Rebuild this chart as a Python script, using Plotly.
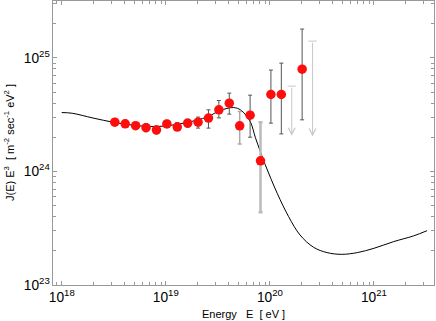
import numpy as np
import plotly.graph_objects as go

# measured flux points: log10(E / eV) and log10(J E^3)
log_e = [18.51, 18.61, 18.71, 18.81, 18.91, 19.01, 19.11, 19.21, 19.31,
         19.41, 19.51, 19.61, 19.71, 19.81, 19.91, 20.01, 20.11, 20.31]
log_flux = [24.433, 24.419, 24.402, 24.385, 24.365, 24.418, 24.390, 24.424, 24.433,
            24.469, 24.542, 24.601, 24.401, 24.495, 24.093, 24.677, 24.677, 24.900]
log_hi = [24.46, 24.45, 24.43, 24.42, 24.40, 24.45, 24.43, 24.46, 24.478,
          24.542, 24.624, 24.689, 24.527, 24.671, 24.433, 24.892, 24.953, 25.253]
log_lo = [24.41, 24.39, 24.37, 24.35, 24.33, 24.39, 24.36, 24.39, 24.381,
          24.381, 24.471, 24.504, 24.242, 24.301, 23.641, 24.425, 24.330, 24.454]
# which error bars are drawn in the pale style
pale = [13, 15]

# upper limits
lim_log_e = [20.21, 20.41]
lim_top = [24.751, 25.147]
lim_tip = [24.313, 24.307]

# model curve
curve_log_e = [18.0, 18.1, 18.3, 18.5, 18.7, 18.85, 19.0, 19.2, 19.4, 19.52, 19.65,
               19.72, 19.81, 19.86, 19.91, 19.955, 20.07, 20.18, 20.29, 20.42, 20.55,
               20.69, 20.84, 21.0, 21.19, 21.38, 21.51]
curve_log_flux = [24.518, 24.512, 24.47, 24.432, 24.405, 24.395, 24.40, 24.43, 24.48,
                  24.535, 24.562, 24.54, 24.44, 24.30, 24.17, 24.06, 23.808, 23.602,
                  23.44, 23.332, 23.285, 23.270, 23.285, 23.323, 23.382, 23.432, 23.478]

FONT = "Liberation Sans, Arial, sans-serif"
AXIS_GREY = "#999999"

e = 10 ** np.array(log_e)
f = 10 ** np.array(log_flux)
plus = 10 ** np.array(log_hi) - f
minus = f - 10 ** np.array(log_lo)

fig = go.Figure()

fig.add_trace(go.Scatter(
    x=10 ** np.array(curve_log_e), y=10 ** np.array(curve_log_flux),
    mode="lines", line=dict(color="black", width=1, shape="spline"),
    hoverinfo="skip"))

# error bars, split into the dark and pale styles
for idx, color, thick in [
        ([i for i in range(len(e)) if i + 1 not in pale], "#555555", 1),
        ([12], "#aaaaaa", 1.5),
        ([14], "#bbbbbb", 2.5)]:
    fig.add_trace(go.Scatter(
        x=e[idx], y=f[idx], mode="markers",
        marker=dict(size=1, color="rgba(0,0,0,0)"),
        error_y=dict(type="data", symmetric=False, array=plus[idx],
                     arrayminus=minus[idx], color=color, thickness=thick, width=2),
        hoverinfo="skip"))

fig.add_trace(go.Scatter(
    x=e, y=f, mode="markers",
    marker=dict(size=9.5, color="#ff0d0d", line=dict(width=0))))

# upper limit caps and arrows
fig.add_trace(go.Scatter(
    x=10 ** np.array(lim_log_e), y=10 ** np.array(lim_top), mode="markers",
    marker=dict(symbol="line-ew", size=6, line=dict(color="#c8c8c8", width=1))))
for le, top, tip in zip(lim_log_e, lim_top, lim_tip):
    fig.add_annotation(x=le, y=tip, ax=le, ay=top, xref="x", yref="y",
                       axref="x", ayref="y", text="", showarrow=True,
                       arrowhead=5, arrowsize=1.3, arrowwidth=1,
                       arrowcolor="#c8c8c8")

fig.add_annotation(
    text="Energy\u00a0\u00a0\u00a0E\u00a0\u00a0[\u00a0eV\u00a0]",
    xref="paper", yref="paper", x=0.5, y=0, yshift=-29,
    xanchor="center", yanchor="middle", showarrow=False,
    font=dict(family=FONT, size=11, color="black"))
fig.add_annotation(
    text="J(E)\u00a0E<sup>3</sup>\u00a0\u00a0[\u00a0m<sup>-2</sup>\u00a0sec<sup>-1</sup>\u00a0eV<sup>2</sup>\u00a0]",
    xref="paper", yref="paper", x=0, y=0.5, xshift=-44, textangle=-90,
    xanchor="center", yanchor="middle", showarrow=False,
    font=dict(family=FONT, size=11, color="black"))

axis_style = dict(
    type="log", dtick=1, exponentformat="power", showexponent="all",
    showgrid=False, zeroline=False, showline=True, linecolor=AXIS_GREY,
    linewidth=1, mirror="allticks", ticks="inside", ticklen=4,
    tickcolor=AXIS_GREY, tickwidth=1,
    tickfont=dict(family=FONT, size=11, color="black"),
    minor=dict(ticks="inside", ticklen=3, tickcolor=AXIS_GREY, dtick="D1",
               showgrid=False))

fig.update_xaxes(range=[17.916, 21.577], **axis_style)
fig.update_yaxes(range=[23, 25.5], **axis_style)

fig.update_layout(
    width=436, height=321, showlegend=False,
    margin=dict(l=53, r=2, t=1, b=36),
    plot_bgcolor="white", paper_bgcolor="white",
    font=dict(family=FONT))

# the page body has a default 8px margin; drop it so the chart sits at the corner
fig.write_html("out.html", config={"displayModeBar": False},
               post_script="document.body.style.margin='0';")
